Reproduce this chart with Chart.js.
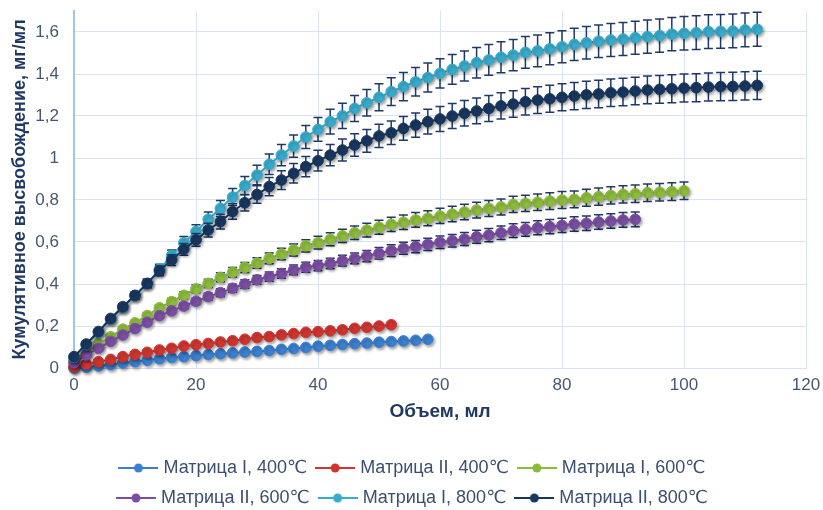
<!DOCTYPE html>
<html>
<head>
<meta charset="utf-8">
<script src="https://cdn.jsdelivr.net/npm/chart.js@4.4.0/dist/chart.umd.min.js"></script>
<style>
  html, body { margin: 0; padding: 0; background: #ffffff; }
  #wrap { width: 823px; height: 510px; }
</style>
</head>
<body>
<div id="wrap"><canvas id="releaseChart" width="823" height="510"></canvas></div>
<script>
// объем, мл (общая ось для всех серий, шаг 2 мл)
var volumeMl = [0, 2, 4, 6, 8, 10, 12, 14, 16, 18, 20, 22, 24, 26, 28, 30, 32, 34, 36, 38,
    40, 42, 44, 46, 48, 50, 52, 54, 56, 58, 60, 62, 64, 66, 68, 70, 72, 74, 76, 78,
    80, 82, 84, 86, 88, 90, 92, 94, 96, 98, 100, 102, 104, 106, 108, 110, 112];

var seriesNames = ['Матрица I, 400℃', 'Матрица II, 400℃', 'Матрица I, 600℃',
    'Матрица II, 600℃', 'Матрица I, 800℃', 'Матрица II, 800℃'];
var seriesColors = ['#3a7fd0', '#d0342f', '#8cbb3c', '#7a4ea2', '#37abcb', '#18365e'];
// процентные планки погрешностей (как в исходной диаграмме)
var errorPct = [0, 0, 5, 5, 5, 5];

var m1_400 = [0.000, 0.004, 0.010, 0.016, 0.024, 0.030, 0.037, 0.044, 0.050, 0.054,
    0.059, 0.064, 0.068, 0.072, 0.076, 0.079, 0.083, 0.089, 0.093, 0.098,
    0.104, 0.108, 0.112, 0.116, 0.119, 0.123, 0.126, 0.129, 0.132, 0.137];
var m2_400 = [0.006, 0.019, 0.030, 0.041, 0.054, 0.065, 0.075, 0.086, 0.094, 0.105,
    0.111, 0.117, 0.124, 0.130, 0.137, 0.145, 0.150, 0.158, 0.164, 0.170,
    0.173, 0.177, 0.182, 0.189, 0.194, 0.200, 0.206];
var m1_600 = [0.035, 0.075, 0.114, 0.149, 0.185, 0.215, 0.250, 0.287, 0.316, 0.346,
    0.377, 0.403, 0.432, 0.456, 0.479, 0.500, 0.522, 0.543, 0.562, 0.582,
    0.597, 0.613, 0.629, 0.644, 0.657, 0.670, 0.684, 0.694, 0.705, 0.713,
    0.724, 0.733, 0.743, 0.752, 0.760, 0.767, 0.779, 0.784, 0.789, 0.795,
    0.800, 0.803, 0.811, 0.816, 0.822, 0.827, 0.830, 0.835, 0.837, 0.840, 0.844];
var m2_600 = [0.025, 0.062, 0.094, 0.127, 0.157, 0.188, 0.218, 0.249, 0.272, 0.295,
    0.318, 0.340, 0.359, 0.380, 0.400, 0.420, 0.435, 0.450, 0.467, 0.480,
    0.488, 0.498, 0.511, 0.522, 0.533, 0.546, 0.559, 0.570, 0.578, 0.589,
    0.599, 0.606, 0.614, 0.625, 0.633, 0.644, 0.654, 0.660, 0.668, 0.673,
    0.679, 0.686, 0.689, 0.695, 0.700, 0.705, 0.708];
var m1_800 = [0.050, 0.110, 0.170, 0.232, 0.288, 0.345, 0.402, 0.470, 0.535, 0.596,
    0.650, 0.708, 0.760, 0.814, 0.869, 0.919, 0.970, 1.014, 1.057, 1.100,
    1.136, 1.173, 1.201, 1.236, 1.263, 1.289, 1.316, 1.340, 1.363, 1.383,
    1.403, 1.422, 1.438, 1.454, 1.467, 1.480, 1.490, 1.503, 1.510, 1.520,
    1.530, 1.541, 1.549, 1.556, 1.562, 1.567, 1.573, 1.578, 1.583, 1.590,
    1.594, 1.597, 1.602, 1.603, 1.605, 1.610, 1.613];
var m2_800 = [0.054, 0.114, 0.174, 0.236, 0.292, 0.346, 0.403, 0.463, 0.514, 0.565,
    0.610, 0.657, 0.697, 0.745, 0.787, 0.826, 0.864, 0.895, 0.927, 0.959,
    0.987, 1.014, 1.038, 1.062, 1.082, 1.105, 1.120, 1.141, 1.157, 1.173,
    1.186, 1.200, 1.213, 1.224, 1.236, 1.248, 1.257, 1.268, 1.276, 1.282,
    1.289, 1.295, 1.301, 1.305, 1.311, 1.314, 1.319, 1.324, 1.327, 1.330,
    1.333, 1.335, 1.338, 1.340, 1.341, 1.343, 1.346];

var xTicks = [0, 20, 40, 60, 80, 100, 120];
var yTicks = [0, 0.2, 0.4, 0.6, 0.8, 1, 1.2, 1.4, 1.6];

var allSeries = [m1_400, m2_400, m1_600, m2_600, m1_800, m2_800];

var FONT = "'Liberation Sans', Arial, 'DejaVu Sans', sans-serif";
var TEXT_COLOR = '#475770';
var LEGEND_COLOR = '#3d4f6e';
var TITLE_COLOR = '#1f3864';
var GRID_COLOR = '#d9e3f3';

// значок легенды: линия с маркером
function makeSwatch(color) {
    var c = document.createElement('canvas');
    c.width = 40; c.height = 14;
    var g = c.getContext('2d');
    g.strokeStyle = color; g.lineWidth = 2;
    g.beginPath(); g.moveTo(0, 7); g.lineTo(40, 7); g.stroke();
    g.fillStyle = color;
    g.beginPath(); g.arc(20, 7, 4.5, 0, Math.PI * 2); g.fill();
    return c;
}
var swatches = seriesColors.map(makeSwatch);

var datasets = allSeries.map(function (vals, i) {
    return {
        label: seriesNames[i],
        data: vals.map(function (v, k) { return { x: volumeMl[k], y: v }; }),
        borderColor: seriesColors[i],
        backgroundColor: seriesColors[i],
        pointBackgroundColor: seriesColors[i],
        pointBorderColor: seriesColors[i],
        borderWidth: 2,
        pointRadius: 5.3,
        pointBorderWidth: 1,
        tension: 0,
        clip: false,
        order: allSeries.length - i,
        errPct: errorPct[i]
    };
});

// планки погрешностей + тень как в Excel
var errorBars = {
    id: 'errorBars',
    beforeDatasetDraw: function (chart, args) {
        var ds = chart.data.datasets[args.index];
        var ctx = chart.ctx;
        var ys = chart.scales.y;
        if (ds.errPct) {
            ctx.save();
            ctx.strokeStyle = '#1f3864';
            ctx.lineWidth = 1.5;
            args.meta.data.forEach(function (pt, k) {
                var v = ds.data[k].y;
                var d = v * ds.errPct / 100;
                var yt = ys.getPixelForValue(v + d);
                var yb = ys.getPixelForValue(v - d);
                ctx.beginPath();
                ctx.moveTo(pt.x, yt); ctx.lineTo(pt.x, yb);
                ctx.moveTo(pt.x - 4.5, yt); ctx.lineTo(pt.x + 4.5, yt);
                ctx.moveTo(pt.x - 4.5, yb); ctx.lineTo(pt.x + 4.5, yb);
                ctx.stroke();
            });
            ctx.restore();
        }
        ctx.save();
        ctx.shadowColor = 'rgba(0,0,0,0.35)';
        ctx.shadowBlur = 3;
        ctx.shadowOffsetX = 1.5;
        ctx.shadowOffsetY = 2;
    },
    afterDatasetDraw: function (chart) {
        chart.ctx.restore();
    }
};

// легенда в две строки по три элемента
var LEGEND_W = 680, LEGEND_TOP = 447, LEGEND_CX = 414;
var legendPlacer = {
    id: 'legendPlacer',
    beforeLayout: function (chart) {
        var lg = chart.legend;
        if (lg && !lg._narrow) {
            var upd = lg.update;
            lg.update = function (w, h, m) { return upd.call(this, LEGEND_W, h, m); };
            lg._narrow = true;
        }
    },
    afterLayout: function (chart) {
        var lg = chart.legend;
        if (!lg) return;
        var h = lg.height;
        lg.left = LEGEND_CX - LEGEND_W / 2;
        lg.right = lg.left + LEGEND_W;
        lg.width = LEGEND_W;
        lg.top = LEGEND_TOP;
        lg.bottom = LEGEND_TOP + h;
    }
};

var ctx = document.getElementById('releaseChart').getContext('2d');
var myChart = new Chart(ctx, {
    type: 'line',
    data: { datasets: datasets },
    plugins: [errorBars, legendPlacer],
    options: {
        responsive: false,
        animation: false,
        devicePixelRatio: 1,
        layout: { padding: { top: 11, right: 17, left: 0, bottom: 0 } },
        scales: {
            x: {
                type: 'linear',
                min: 0,
                max: 120,
                afterBuildTicks: function (s) {
                    s.ticks = xTicks.map(function (v) { return { value: v }; });
                },
                afterFit: function (s) {
                    s.height = 72;
                    s.paddingLeft = 0; s.paddingRight = 0;
                },
                ticks: {
                    color: TEXT_COLOR,
                    padding: 7,
                    font: { family: FONT, size: 17 },
                    callback: function (v) { return String(v); }
                },
                grid: { color: GRID_COLOR, lineWidth: 1, drawTicks: false },
                border: { color: GRID_COLOR, width: 1 },
                title: {
                    display: true,
                    text: 'Объем, мл',
                    color: TITLE_COLOR,
                    font: { family: FONT, size: 19, weight: 'bold' },
                    padding: { top: 6, bottom: 17 }
                }
            },
            y: {
                min: 0,
                max: 1.7,
                afterBuildTicks: function (s) {
                    s.ticks = yTicks.map(function (v) { return { value: v }; });
                },
                afterFit: function (s) {
                    s.width = 74;
                    s.paddingTop = 0; s.paddingBottom = 0;
                },
                ticks: {
                    color: TEXT_COLOR,
                    padding: 15,
                    font: { family: FONT, size: 17 },
                    callback: function (v) { return String(+v.toFixed(1)).replace('.', ','); }
                },
                grid: { color: GRID_COLOR, lineWidth: 1, drawTicks: false },
                border: { color: '#a3c4ea', width: 2 },
                title: {
                    display: true,
                    text: 'Кумулятивное высвобождение, мг/мл',
                    color: TITLE_COLOR,
                    font: { family: FONT, size: 18, weight: 'bold' },
                    padding: { top: 9, bottom: 6 }
                }
            }
        },
        plugins: {
            tooltip: { enabled: false },
            legend: {
                position: 'bottom',
                labels: {
                    usePointStyle: true,
                    pointStyleWidth: 32,
                    padding: 12,
                    color: LEGEND_COLOR,
                    font: { family: FONT, size: 18 },
                    generateLabels: function (chart) {
                        return chart.data.datasets.map(function (ds, i) {
                            return {
                                text: seriesNames[i],
                                fillStyle: seriesColors[i],
                                strokeStyle: seriesColors[i],
                                lineWidth: 0,
                                pointStyle: swatches[i],
                                fontColor: LEGEND_COLOR,
                                hidden: false,
                                datasetIndex: i
                            };
                        });
                    }
                }
            }
        }
    }
});
</script>
</body>
</html>
